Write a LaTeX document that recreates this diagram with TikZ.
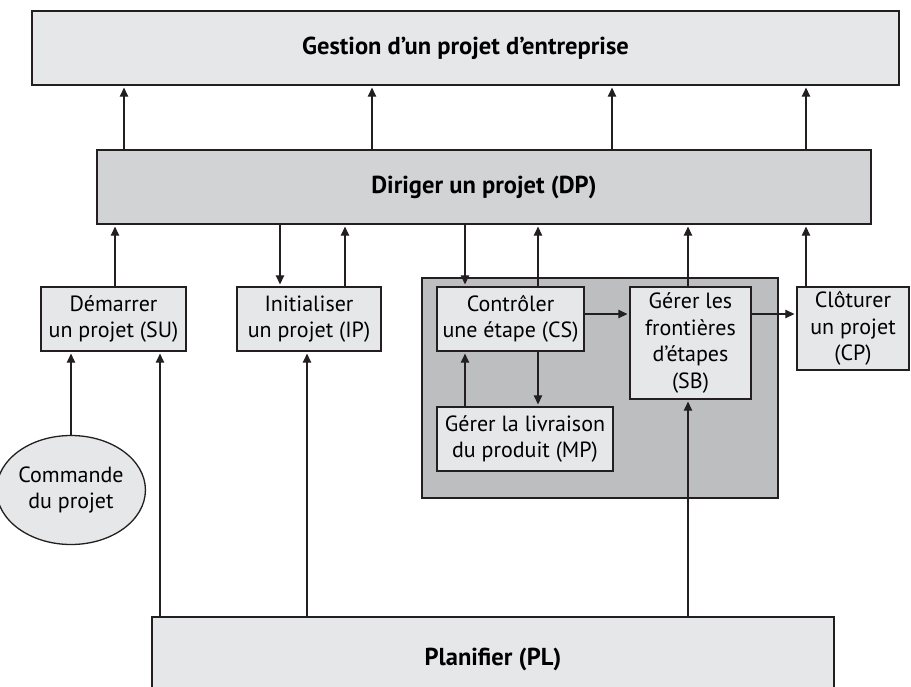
\documentclass[tikz,border=0pt]{standalone}
\usepackage{fontspec}
\setmainfont{PT Sans}
\usetikzlibrary{arrows.meta,shapes.geometric}
\definecolor{lightbox}{HTML}{E6E7E8}
\definecolor{midbox}{HTML}{D1D3D4}
\definecolor{darkbox}{HTML}{BCBEC0}
\definecolor{ink}{HTML}{231F20}
\begin{document}
\begin{tikzpicture}[x=1pt,y=-1pt,
  box/.style={draw=ink,line width=1.3pt,fill=lightbox,inner sep=0pt,align=center,
    font=\fontsize{22}{26.5}\selectfont},
  titlebox/.style={box,font=\bfseries\fontsize{24.5}{28}\selectfont},
  arr/.style={draw=ink,line width=1.1pt,-{Triangle[length=9pt,width=8.5pt]},shorten >=2pt}]
\useasboundingbox (0,0) rectangle (911,686);
\clip (0,0) rectangle (911,686);

% main levels
\node[titlebox,minimum width=867pt,minimum height=74pt] (G) at (465.5,48) {Gestion d’un projet d’entreprise};
\node[titlebox,fill=midbox,minimum width=774pt,minimum height=74pt] (DP) at (484,187) {Diriger un projet (DP)};
\node[titlebox,minimum width=682pt,minimum height=84pt] (PL) at (493,659) {Planifier (PL)};

% stage container
\node[box,fill=darkbox,minimum width=356pt,minimum height=220pt] (ST) at (600,388) {};

% processes
\node[box,minimum width=145pt,minimum height=64pt] (SU) at (113.5,319) {Démarrer\\un projet (SU)};
\node[box,minimum width=144pt,minimum height=64pt] (IP) at (309,319) {Initialiser\\un projet (IP)};
\node[box,minimum width=147pt,minimum height=64pt] (CS) at (510.5,319) {Contrôler\\une étape (CS)};
\node[box,minimum width=121pt,minimum height=112pt] (SB) at (690.5,343) {Gérer les\\frontières\\d’étapes\\(SB)};
\node[box,minimum width=112pt,minimum height=83pt] (CP) at (853,328.5) {Clôturer\\un projet\\(CP)};
\node[box,minimum width=176pt,minimum height=64pt] (MP) at (525,439) {Gérer la livraison\\du produit (MP)};
\node[box,ellipse,minimum width=121pt,minimum height=109pt] (CO) at (71,490) {Commande\\du projet};

% reporting to corporate management
\foreach \x in {124,372,612,806}
  \draw[arr] (\x,0 |- DP.north) -- (\x,0 |- G.south);

% links with project direction
\draw[arr] (115,0 |- SU.north) -- (115,0 |- DP.south);
\draw[arr] (280,0 |- DP.south) -- (280,0 |- IP.north);
\draw[arr] (345,0 |- IP.north) -- (345,0 |- DP.south);
\draw[arr] (465,0 |- DP.south) -- (465,0 |- CS.north);
\draw[arr] (538,0 |- CS.north) -- (538,0 |- DP.south);
\draw[arr] (688,0 |- SB.north) -- (688,0 |- DP.south);
\draw[arr] (806,0 |- CP.north) -- (806,0 |- DP.south);

% stage flow
\draw[arr] (CS.east |- 0,314) -- (SB.west |- 0,314);
\draw[arr] (SB.east |- 0,314) -- (CP.west |- 0,314);
\draw[arr] (538,0 |- CS.south) -- (538,0 |- MP.north);
\draw[arr] (465,0 |- MP.north) -- (465,0 |- CS.south);

% inputs
\draw[arr] (CO.north) -- (CO.north |- SU.south);
\draw[arr] (160,0 |- PL.north) -- (160,0 |- SU.south);
\draw[arr] (307,0 |- PL.north) -- (307,0 |- IP.south);
\draw[arr] (688,0 |- PL.north) -- (688,0 |- SB.south);
\end{tikzpicture}
\end{document}
